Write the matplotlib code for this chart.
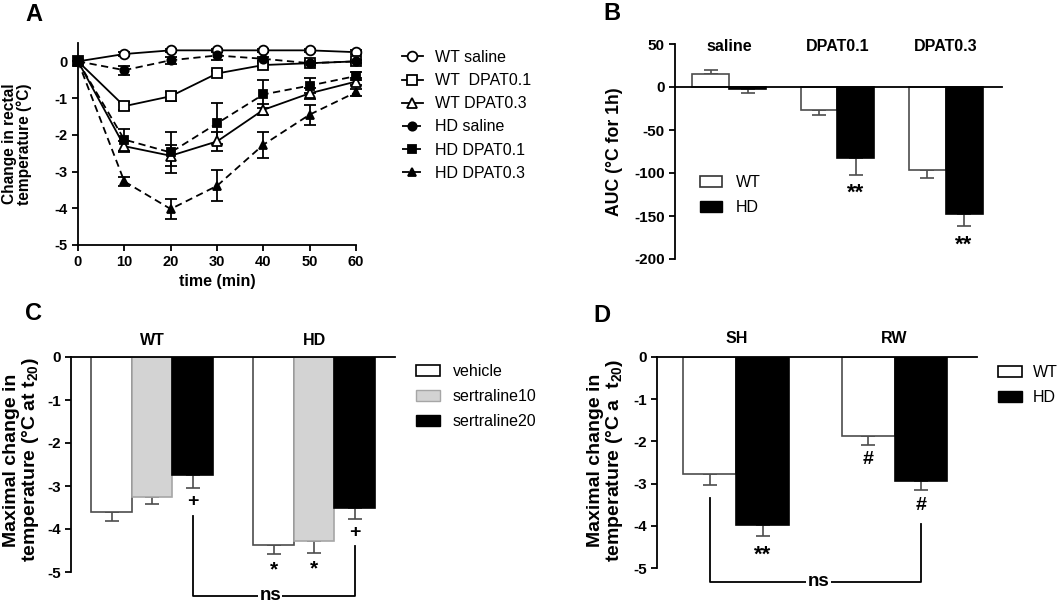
import matplotlib
matplotlib.use("Agg")
import matplotlib.pyplot as plt
import numpy as np
from matplotlib.patches import Patch

plt.rcParams['font.family'] = ['Liberation Sans', 'DejaVu Sans']
plt.rcParams['font.weight'] = 'bold'
plt.rcParams['axes.labelweight'] = 'bold'
plt.rcParams['axes.linewidth'] = 1.3
plt.rcParams['axes.unicode_minus'] = False
plt.rcParams['mathtext.fontset'] = 'custom'
plt.rcParams['mathtext.rm'] = 'Liberation Sans:bold'
plt.rcParams['mathtext.default'] = 'rm'

# ---- panel A: time course ----
times = [0, 10, 20, 30, 40, 50, 60]
a_labels = ['WT saline', 'WT  DPAT0.1', 'WT DPAT0.3', 'HD saline', 'HD DPAT0.1', 'HD DPAT0.3']
wt_saline = [0, 0.2, 0.3, 0.3, 0.3, 0.3, 0.25]
wt_saline_err = [0, 0.05, 0.05, 0.05, 0.05, 0.05, 0.05]
wt_dpat01 = [0, -1.22, -0.95, -0.33, -0.1, -0.05, 0.0]
wt_dpat01_err = [0, 0.1, 0.12, 0.08, 0.06, 0.06, 0.05]
wt_dpat03 = [0, -2.31, -2.57, -2.18, -1.32, -0.87, -0.55]
wt_dpat03_err = [0, 0.15, 0.28, 0.25, 0.15, 0.15, 0.1]
hd_saline = [0, -0.24, 0.03, 0.16, 0.07, -0.05, 0.0]
hd_saline_err = [0, 0.12, 0.1, 0.12, 0.05, 0.05, 0.05]
hd_dpat01 = [0, -2.13, -2.48, -1.69, -0.9, -0.66, -0.4]
hd_dpat01_err = [0, 0.3, 0.55, 0.55, 0.38, 0.2, 0.1]
hd_dpat03 = [0, -3.27, -4.02, -3.39, -2.27, -1.45, -0.84]
hd_dpat03_err = [0, 0.12, 0.28, 0.42, 0.35, 0.27, 0.1]

# ---- panel B: AUC ----
b_groups = ['saline', 'DPAT0.1', 'DPAT0.3']
b_wt = [15, -27, -96]
b_wt_err = [5, 6, 10]
b_hd = [-2, -82, -148]
b_hd_err = [5, 20, 14]
b_hd_marks = ['', '**', '**']

# ---- panel C: sertraline ----
c_groups = ['WT', 'HD']
c_series = ['vehicle', 'sertraline10', 'sertraline20']
c_vehicle = [-3.6, -4.38]
c_vehicle_err = [0.22, 0.2]
c_sert10 = [-3.25, -4.28]
c_sert10_err = [0.17, 0.27]
c_sert20 = [-2.75, -3.52]
c_sert20_err = [0.3, 0.25]
c_vehicle_marks = ['', '*']
c_sert10_marks = ['', '*']
c_sert20_marks = ['+', '+']

# ---- panel D: housing ----
d_groups = ['SH', 'RW']
d_wt = [-2.78, -1.88]
d_wt_err = [0.25, 0.2]
d_hd = [-3.97, -2.93]
d_hd_err = [0.28, 0.23]
d_wt_marks = ['', '#']
d_hd_marks = ['**', '#']

W, H = 1063, 604
fig = plt.figure(figsize=(W / 100, H / 100), dpi=100)


def px_axes(l, t, r, b):
    return fig.add_axes([l / W, 1 - b / H, (r - l) / W, (b - t) / H])


def style(ax, size=11):
    ax.spines['top'].set_visible(False)
    ax.spines['right'].set_visible(False)
    ax.tick_params(direction='out', length=4, width=1.3, labelsize=size)


def legend_at(handles, labels, x, y, **kw):
    fig.legend(handles, labels, loc='upper left', bbox_to_anchor=(x / W, 1 - y / H),
               frameon=False, borderpad=0, borderaxespad=0,
               prop={'size': 11.5, 'weight': 'normal'}, **kw)


def one_sided(vals, errs):
    vals = np.array(vals)
    errs = np.array(errs)
    lo = np.where(vals < 0, errs, 0)
    hi = np.where(vals >= 0, errs, 0)
    return [lo, hi]


def bar_series(ax, x, vals, errs, width, face, edge, ecol):
    ax.bar(x, vals, width=width, color=face, edgecolor=edge, linewidth=1.2, zorder=2)
    ax.errorbar(x, vals, yerr=one_sided(vals, errs), fmt='none', ecolor=ecol,
                elinewidth=1.2, capsize=5, capthick=1.2, zorder=1)


# ================= A =================
axA = px_axes(78, 43, 356, 245)
style(axA, 10.5)
series = [
    (wt_saline, wt_saline_err, 'o', 'white', '-'),
    (wt_dpat01, wt_dpat01_err, 's', 'white', '-'),
    (wt_dpat03, wt_dpat03_err, '^', 'white', '-'),
    (hd_saline, hd_saline_err, 'o', 'black', (0, (4, 2.5))),
    (hd_dpat01, hd_dpat01_err, 's', 'black', (0, (4, 2.5))),
    (hd_dpat03, hd_dpat03_err, '^', 'black', (0, (4, 2.5))),
]
handles = []
for vals, errs, mk, face, ls in series:
    axA.errorbar(times, vals, yerr=errs, fmt='none', ecolor='black', elinewidth=1.3,
                 capsize=4, capthick=1.3, clip_on=False, zorder=2)
    ms = 6 if face == 'black' else 7
    line, = axA.plot(times, vals, linestyle=ls, color='black', linewidth=1.3, marker=mk,
                     markersize=ms, markerfacecolor=face, markeredgecolor='black',
                     markeredgewidth=1.3, clip_on=False, zorder=3)
    handles.append(line)
axA.set_xlim(0, 60)
axA.set_ylim(-5, 0.5)
axA.set_xticks(times)
axA.set_yticks([0, -1, -2, -3, -4, -5])
axA.set_xlabel('time (min)', fontsize=11.5, labelpad=3)
axA.set_ylabel('Change in rectal\ntemperature (°C)', fontsize=11.2, linespacing=1.0)
axA.yaxis.set_label_coords(-0.165, 0.5)
legend_at(handles, a_labels, 402, 50, handlelength=1.3, handletextpad=0.75,
          labelspacing=0.51)
fig.text(25 / W, 1 - 14.5 / H, 'A', fontsize=17, va='center', ha='left')

# ================= B =================
axB = px_axes(675, 44, 1002, 259)
style(axB)
axB.spines['bottom'].set_position(('data', 0))
axB.tick_params(axis='x', length=0, labelbottom=False)
wb = 0.34
xb = np.arange(len(b_groups))
bar_series(axB, xb - wb / 2, b_wt, b_wt_err, wb, 'white', '#4d4d4d', '#4d4d4d')
bar_series(axB, xb + wb / 2, b_hd, b_hd_err, wb, 'black', 'black', '#4d4d4d')
axB.set_xlim(-0.5, 2.52)
axB.set_ylim(-200, 50)
axB.set_yticks([50, 0, -50, -100, -150, -200])
axB.set_ylabel('AUC (°C for 1h)', fontsize=12.7)
axB.yaxis.set_label_coords(-0.159, 0.5)
for i, g in enumerate(b_groups):
    axB.text(i, 47, g, ha='center', va='center', fontsize=11.5)
for i, m in enumerate(b_hd_marks):
    if m:
        axB.text(i + wb / 2, b_hd[i] - b_hd_err[i] - 22, m, ha='center', va='center',
                 fontsize=16)
legend_at([Patch(facecolor='white', edgecolor='#333333', linewidth=1.2),
           Patch(facecolor='black', edgecolor='black')], ['WT', 'HD'], 700, 175,
          handlelength=1.4, handletextpad=0.85, labelspacing=0.64)
fig.text(603 / W, 1 - 13 / H, 'B', fontsize=17, va='center', ha='left')

# ================= C =================
axC = px_axes(71, 357, 395, 572)
style(axC)
axC.spines['bottom'].set_position(('data', 0))
axC.tick_params(axis='x', length=0, labelbottom=False)
wc = 0.25
xc = np.arange(len(c_groups))
bar_series(axC, xc - wc, c_vehicle, c_vehicle_err, wc, 'white', '#4d4d4d', '#4d4d4d')
bar_series(axC, xc, c_sert10, c_sert10_err, wc, '#d3d3d3', '#a6a6a6', '#4d4d4d')
bar_series(axC, xc + wc, c_sert20, c_sert20_err, wc, 'black', 'black', '#4d4d4d')
axC.set_xlim(-0.5, 1.5)
axC.set_ylim(-5, 0)
axC.set_yticks([0, -1, -2, -3, -4, -5])
axC.set_ylabel('Maximal change in\ntemperature (°C at t$_{20}$)', fontsize=14,
               linespacing=1.0)
axC.yaxis.set_label_coords(-0.093, 0.52)
for i, g in enumerate(c_groups):
    axC.text(i, 0.39, g, ha='center', va='center', fontsize=11.5)
for off, vals, errs, marks in [(-wc, c_vehicle, c_vehicle_err, c_vehicle_marks),
                               (0, c_sert10, c_sert10_err, c_sert10_marks),
                               (wc, c_sert20, c_sert20_err, c_sert20_marks)]:
    for i, m in enumerate(marks):
        if m:
            dy = 0.38 if m == '*' else 0.3
            axC.text(i + off, vals[i] - errs[i] - dy, m, ha='center', va='center',
                     fontsize=15 if m == '*' else 14)
# ns bracket between WT and HD sertraline20
axC.plot([wc, wc, 1 + wc, 1 + wc], [-3.7, -5.55, -5.55, -4.4], color='black',
         linewidth=1.3, clip_on=False)
axC.text(0.73, -5.55, 'ns', ha='center', va='center', fontsize=13.5,
         bbox=dict(facecolor='white', edgecolor='none', pad=1))
legend_at([Patch(facecolor='white', edgecolor='black', linewidth=1.2),
           Patch(facecolor='#d3d3d3', edgecolor='#a6a6a6'),
           Patch(facecolor='black', edgecolor='black')], c_series, 416, 364,
          handlelength=1.5, handletextpad=0.8, labelspacing=0.64)
fig.text(25 / W, 1 - 314 / H, 'C', fontsize=17, va='center', ha='left')

# ================= D =================
axD = px_axes(657, 357, 977, 568)
style(axD)
axD.spines['bottom'].set_position(('data', 0))
axD.tick_params(axis='x', length=0, labelbottom=False)
wd = 0.333
xd = np.arange(len(d_groups))
bar_series(axD, xd - wd / 2, d_wt, d_wt_err, wd, 'white', '#4d4d4d', '#4d4d4d')
bar_series(axD, xd + wd / 2, d_hd, d_hd_err, wd, 'black', 'black', '#4d4d4d')
axD.set_xlim(-0.5, 1.52)
axD.set_ylim(-5, 0)
axD.set_yticks([0, -1, -2, -3, -4, -5])
axD.set_ylabel('Maximal change in\ntemperature (°C a  t$_{20}$)', fontsize=14,
               linespacing=1.0)
axD.yaxis.set_label_coords(-0.10, 0.51)
for i, g in enumerate(d_groups):
    axD.text(i, 0.43, g, ha='center', va='center', fontsize=11.5)
for off, vals, errs, marks in [(-wd / 2, d_wt, d_wt_err, d_wt_marks),
                               (wd / 2, d_hd, d_hd_err, d_hd_marks)]:
    for i, m in enumerate(marks):
        if m:
            dy = 0.45 if m == '**' else 0.35
            axD.text(i + off, vals[i] - errs[i] - dy, m, ha='center', va='center',
                     fontsize=16 if m == '**' else 14)
axD.plot([-wd / 2, -wd / 2, 1 + wd / 2, 1 + wd / 2], [-3.34, -5.33, -5.33, -3.95],
         color='black', linewidth=1.3, clip_on=False)
axD.text(0.52, -5.33, 'ns', ha='center', va='center', fontsize=13.5,
         bbox=dict(facecolor='white', edgecolor='none', pad=1))
legend_at([Patch(facecolor='white', edgecolor='black', linewidth=1.2),
           Patch(facecolor='black', edgecolor='black')], ['WT', 'HD'], 998, 365,
          handlelength=1.5, handletextpad=0.7, labelspacing=0.64)
fig.text(593 / W, 1 - 316 / H, 'D', fontsize=17, va='center', ha='left')

fig.savefig('out.png', dpi=100)
